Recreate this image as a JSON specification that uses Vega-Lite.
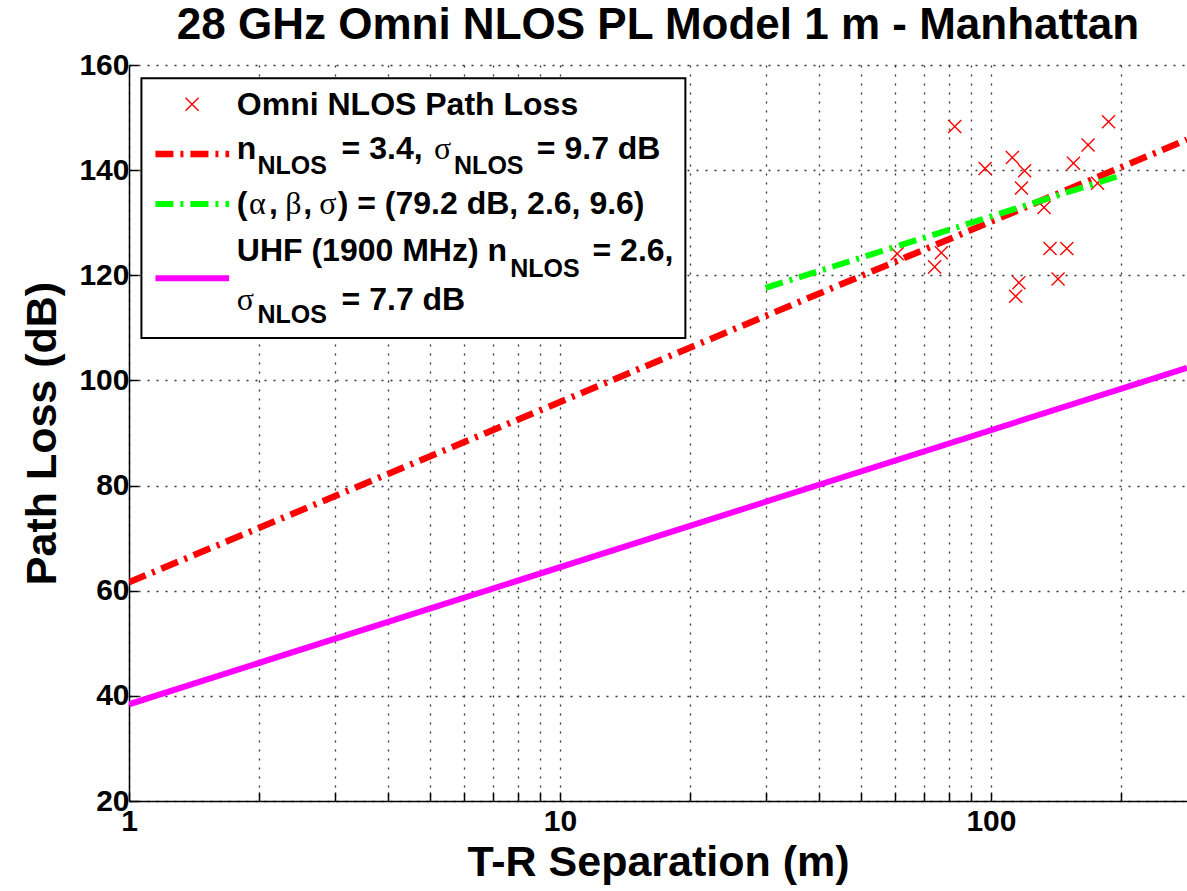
{
  "$schema": "https://vega.github.io/schema/vega-lite/v6.json",
  "width": 1058,
  "height": 736,
  "autosize": {"type": "none"},
  "padding": {"left": 129, "top": 65, "right": 0, "bottom": 90},
  "background": "white",
  "config": {"view": {"stroke": null}, "font": "Liberation Sans"},
  "title": {
    "text": "28 GHz Omni NLOS PL Model 1 m - Manhattan",
    "font": "Liberation Sans",
    "fontSize": 44,
    "fontWeight": "bold",
    "color": "black",
    "anchor": "middle",
    "frame": "group",
    "baseline": "alphabetic",
    "offset": 14,
    "dy": 47
  },
  "datasets": {
    "measured": [
      {"d": 82.4, "pl": 148.3},
      {"d": 187.4, "pl": 149.2},
      {"d": 168.0, "pl": 144.8},
      {"d": 155.4, "pl": 141.3},
      {"d": 112.1, "pl": 142.4},
      {"d": 119.7, "pl": 139.9},
      {"d": 96.9, "pl": 140.3},
      {"d": 117.7, "pl": 136.6},
      {"d": 132.8, "pl": 132.9},
      {"d": 176.7, "pl": 137.5},
      {"d": 60.6, "pl": 124.1},
      {"d": 76.7, "pl": 124.3},
      {"d": 74.0, "pl": 121.6},
      {"d": 137.1, "pl": 125.1},
      {"d": 150.0, "pl": 125.1},
      {"d": 143.1, "pl": 119.3},
      {"d": 116.1, "pl": 118.6},
      {"d": 114.1, "pl": 116.0}
    ],
    "models": [
      {"series": "ple", "d": 1, "pl": 61.6},
      {"series": "ple", "d": 285, "pl": 145.8},
      {"series": "ab", "d": 30, "pl": 117.6},
      {"series": "ab", "d": 200, "pl": 139.0},
      {"series": "uhf", "d": 1, "pl": 38.4},
      {"series": "uhf", "d": 285, "pl": 102.4}
    ],
    "legendBox": [
      {"d": 1.0686, "d2": 19.54, "pl": 157.5, "pl2": 108.07}
    ],
    "legendMarker": [
      {"d": 1.4006, "pl": 152.53}
    ],
    "legendSamples": [
      {"series": "ple", "d": 1.1517, "pl": 143.07},
      {"series": "ple", "d": 1.7075, "pl": 143.07},
      {"series": "ab", "d": 1.1517, "pl": 133.56},
      {"series": "ab", "d": 1.7075, "pl": 133.56},
      {"series": "uhf", "d": 1.1517, "pl": 119.43},
      {"series": "uhf", "d": 1.7075, "pl": 119.43}
    ],
    "legendText": [
      {"kind": "main", "text": "Omni NLOS Path Loss", "d": 1.7789, "pl": 150.49},
      {"kind": "main", "text": "n", "d": 1.7789, "pl": 142.03},
      {"kind": "sub", "text": "NLOS", "d": 1.9873, "pl": 139.21},
      {"kind": "main", "text": "= 3.4,", "d": 3.1141, "pl": 142.03},
      {"kind": "greek", "text": "σ", "d": 5.1033, "pl": 142.03},
      {"kind": "sub", "text": "NLOS", "d": 5.6786, "pl": 139.21},
      {"kind": "main", "text": "= 9.7 dB", "d": 8.8384, "pl": 142.03},
      {"kind": "main", "text": "(", "d": 1.7789, "pl": 131.66},
      {"kind": "greek", "text": "α", "d": 1.8975, "pl": 131.66},
      {"kind": "main", "text": ",", "d": 2.1131, "pl": 131.66},
      {"kind": "greek", "text": "β", "d": 2.3041, "pl": 131.66},
      {"kind": "main", "text": ",", "d": 2.5381, "pl": 131.66},
      {"kind": "greek", "text": "σ", "d": 2.7650, "pl": 131.66},
      {"kind": "main", "text": ") = (79.2 dB, 2.6, 9.6)", "d": 3.0500, "pl": 131.66},
      {"kind": "main", "text": "UHF (1900 MHz) n", "d": 1.7789, "pl": 122.72},
      {"kind": "sub", "text": "NLOS", "d": 7.6626, "pl": 119.73},
      {"kind": "main", "text": "= 2.6,", "d": 11.9, "pl": 122.72},
      {"kind": "greek", "text": "σ", "d": 1.7789, "pl": 113.4},
      {"kind": "sub", "text": "NLOS", "d": 1.9873, "pl": 110.87},
      {"kind": "main", "text": "= 7.7 dB", "d": 3.1141, "pl": 113.4}
    ]
  },
  "encoding": {
    "x": {
      "field": "d",
      "type": "quantitative",
      "scale": {"type": "log", "domain": [1, 285], "nice": false},
      "axis": {
        "title": "T-R Separation (m)",
        "titleFont": "Liberation Sans",
        "titleFontSize": 43,
        "titleFontWeight": "bold",
        "titleColor": "black",
        "titlePadding": 5,
        "values": [1, 2, 3, 4, 5, 6, 7, 8, 9, 10, 20, 30, 40, 50, 60, 70, 80, 90, 100, 200],
        "labelExpr": "indexof([1, 10, 100], datum.value) >= 0 ? format(datum.value, 'd') : ''",
        "labelOverlap": false,
        "labelFlush": false,
        "labelFont": "Liberation Sans",
        "labelFontSize": 30,
        "labelFontWeight": "bold",
        "labelColor": "black",
        "labelPadding": 14,
        "tickSize": -9,
        "tickColor": "black",
        "tickWidth": 1.5,
        "domainColor": "black",
        "domainWidth": 1.5,
        "grid": true,
        "gridColor": "#333333",
        "gridDash": [2, 7],
        "gridWidth": 1.3
      }
    },
    "y": {
      "field": "pl",
      "type": "quantitative",
      "scale": {"domain": [20, 160], "nice": false, "zero": false},
      "axis": {
        "title": "Path Loss (dB)",
        "titleFont": "Liberation Sans",
        "titleFontSize": 43,
        "titleFontWeight": "bold",
        "titleColor": "black",
        "titlePadding": 14,
        "values": [20, 40, 60, 80, 100, 120, 140, 160],
        "labelFont": "Liberation Sans",
        "labelFontSize": 30,
        "labelFontWeight": "bold",
        "labelColor": "black",
        "labelPadding": 9,
        "labelFlush": false,
        "tickSize": -9,
        "tickColor": "black",
        "tickWidth": 1.5,
        "domainColor": "black",
        "domainWidth": 1.5,
        "grid": true,
        "gridColor": "#333333",
        "gridDash": [2, 7],
        "gridWidth": 1.3
      }
    }
  },
  "layer": [
    {
      "data": {"name": "measured"},
      "mark": {"type": "point", "shape": "M-1,-1L1,1M-1,1L1,-1", "filled": false, "color": "#ff0000", "strokeWidth": 1.4, "size": 170, "opacity": 1}
    },
    {
      "data": {"name": "models"},
      "transform": [{"filter": "datum.series === 'ple'"}],
      "mark": {"type": "line", "color": "#ff0000", "strokeWidth": 6.5, "strokeDash": [18, 7, 3, 7], "strokeCap": "butt", "clip": true}
    },
    {
      "data": {"name": "models"},
      "transform": [{"filter": "datum.series === 'ab'"}],
      "mark": {"type": "line", "color": "#00ff00", "strokeWidth": 6, "strokeDash": [18, 7, 3, 7], "strokeCap": "butt", "clip": true}
    },
    {
      "data": {"name": "models"},
      "transform": [{"filter": "datum.series === 'uhf'"}],
      "mark": {"type": "line", "color": "#ff00ff", "strokeWidth": 6, "strokeCap": "butt", "clip": true}
    },
    {
      "data": {"name": "legendBox"},
      "mark": {"type": "rect", "fill": "white", "stroke": "black", "strokeWidth": 2},
      "encoding": {"x2": {"field": "d2"}, "y2": {"field": "pl2"}}
    },
    {
      "data": {"name": "legendMarker"},
      "mark": {"type": "point", "shape": "M-1,-1L1,1M-1,1L1,-1", "filled": false, "color": "#ff0000", "strokeWidth": 1.4, "size": 170, "opacity": 1}
    },
    {
      "data": {"name": "legendSamples"},
      "transform": [{"filter": "datum.series === 'ple'"}],
      "mark": {"type": "line", "color": "#ff0000", "strokeWidth": 6.5, "strokeDash": [18, 7, 3, 7], "strokeCap": "butt"}
    },
    {
      "data": {"name": "legendSamples"},
      "transform": [{"filter": "datum.series === 'ab'"}],
      "mark": {"type": "line", "color": "#00ff00", "strokeWidth": 6, "strokeDash": [18, 7, 3, 7], "strokeCap": "butt"}
    },
    {
      "data": {"name": "legendSamples"},
      "transform": [{"filter": "datum.series === 'uhf'"}],
      "mark": {"type": "line", "color": "#ff00ff", "strokeWidth": 6, "strokeCap": "butt"}
    },
    {
      "data": {"name": "legendText"},
      "transform": [{"filter": "datum.kind === 'main'"}],
      "mark": {"type": "text", "align": "left", "baseline": "alphabetic", "font": "Liberation Sans", "fontSize": 32, "fontWeight": "bold", "color": "black"},
      "encoding": {"text": {"field": "text"}}
    },
    {
      "data": {"name": "legendText"},
      "transform": [{"filter": "datum.kind === 'sub'"}],
      "mark": {"type": "text", "align": "left", "baseline": "alphabetic", "font": "Liberation Sans", "fontSize": 25, "fontWeight": "bold", "color": "black"},
      "encoding": {"text": {"field": "text"}}
    },
    {
      "data": {"name": "legendText"},
      "transform": [{"filter": "datum.kind === 'greek'"}],
      "mark": {"type": "text", "align": "left", "baseline": "alphabetic", "font": "Liberation Serif", "fontSize": 32, "fontWeight": "normal", "color": "black"},
      "encoding": {"text": {"field": "text"}}
    }
  ]
}
